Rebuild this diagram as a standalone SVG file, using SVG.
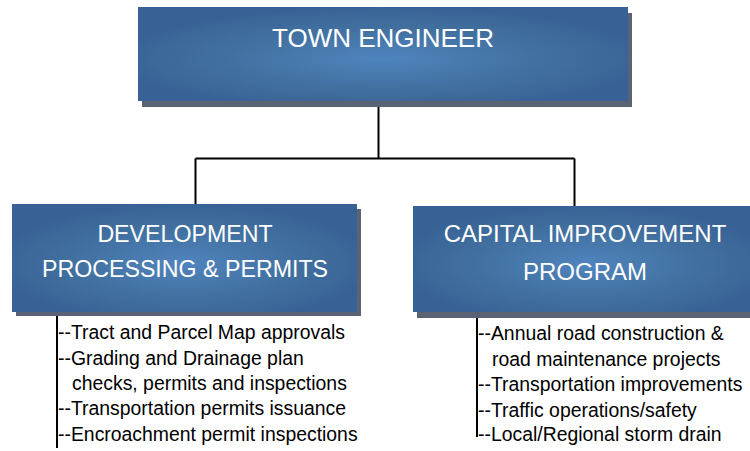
<svg xmlns="http://www.w3.org/2000/svg" width="750" height="451" viewBox="0 0 750 451">
<defs>
<radialGradient id="boxGrad" cx="0.5" cy="0.55" r="0.55">
<stop offset="0" stop-color="#5084be"/>
<stop offset="0.6" stop-color="#41709f"/>
<stop offset="1" stop-color="#386296"/>
</radialGradient>
<style>
.shadow{fill:#5a6374}
.box{fill:url(#boxGrad)}
.title{font-family:"Liberation Sans",Arial,sans-serif;fill:#ffffff;text-anchor:middle}
.item{font-family:"Liberation Sans",Arial,sans-serif;font-size:19.4px;fill:#000000}
.conn{stroke:#000000;stroke-width:2;fill:none}
</style>
</defs>
<rect width="750" height="451" fill="#ffffff"/>
<g id="connectors">
<path class="conn" d="M378.5 101 V158.5 M195.5 158.5 H574.5 M195.5 158.5 V204 M574.5 158.5 V206"/>
<path class="conn" d="M57 312 V448"/>
<path class="conn" d="M477 312 V437"/>
</g>
<g id="town-engineer">
<rect class="shadow" x="142" y="13" width="490" height="94"/>
<rect class="box" x="138" y="7" width="490" height="94"/>
<text class="title" x="383" y="47" font-size="26">TOWN ENGINEER</text>
</g>
<g id="development">
<rect class="shadow" x="16" y="209" width="345" height="107"/>
<rect class="box" x="12" y="204" width="345" height="108"/>
<text class="title" x="185" y="242" font-size="23.2">DEVELOPMENT</text>
<text class="title" x="185" y="277" font-size="23.2">PROCESSING &amp; PERMITS</text>
</g>
<g id="capital">
<rect class="shadow" x="417" y="212" width="345" height="106"/>
<rect class="box" x="413" y="206" width="347" height="106"/>
<text class="title" x="585" y="242" font-size="24">CAPITAL IMPROVEMENT</text>
<text class="title" x="585" y="280" font-size="24">PROGRAM</text>
</g>
<g id="development-list">
<text class="item" x="58" y="339">--Tract and Parcel Map approvals</text>
<text class="item" x="58" y="364.5">--Grading and Drainage plan</text>
<text class="item" x="72" y="390">checks, permits and inspections</text>
<text class="item" x="58" y="415">--Transportation permits issuance</text>
<text class="item" x="58" y="440.5">--Encroachment permit inspections</text>
</g>
<g id="capital-list">
<text class="item" x="478" y="340">--Annual road construction &amp;</text>
<text class="item" x="492" y="365.5">road maintenance projects</text>
<text class="item" x="478" y="391">--Transportation improvements</text>
<text class="item" x="478" y="416.5">--Traffic operations/safety</text>
<text class="item" x="478" y="441">--Local/Regional storm drain</text>
</g>
</svg>
